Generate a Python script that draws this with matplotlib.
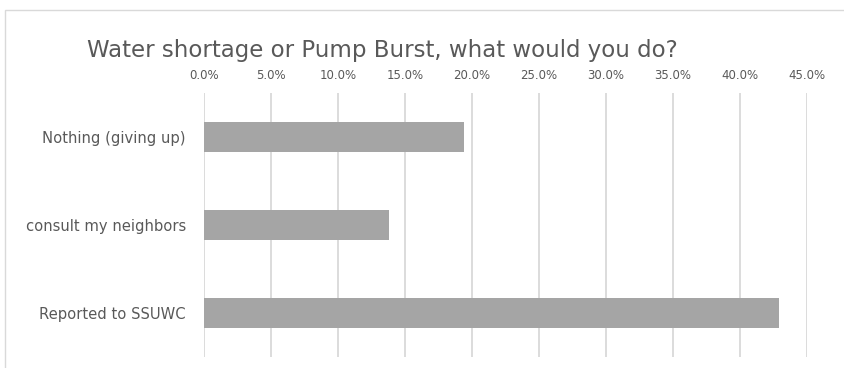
import matplotlib
matplotlib.use("Agg")
import matplotlib.pyplot as plt
from matplotlib.patches import Rectangle
from matplotlib.ticker import PercentFormatter, MultipleLocator

plt.rcParams['font.family'] = ['DejaVu Sans']

title = "Water shortage or Pump Burst, what would you do?"
categories = ["Reported to SSUWC", "consult my neighbors", "Nothing (giving up)"]
values = [42.9, 13.8, 19.4]

W, H = 845, 368
fig = plt.figure(figsize=(W / 100, H / 100), dpi=100)

# light chart-area frame
fig.patches.append(Rectangle((5 / W, -0.02), 1.1, (H - 10) / H + 0.02,
                             transform=fig.transFigure, fill=False,
                             edgecolor="#d9d9d9", linewidth=1.0))

ax = fig.add_axes([204 / W, 1 - 357 / H, (807 - 204) / W, (357 - 93) / H])
ypos = range(len(categories))
ax.barh(ypos, values, height=0.34, color="#a5a5a5", zorder=3)
ax.set_ylim(-0.5, len(categories) - 0.5)
ax.set_xlim(0, 45)
ax.xaxis.set_major_locator(MultipleLocator(5))
ax.xaxis.set_major_formatter(PercentFormatter(decimals=1))
ax.xaxis.tick_top()
ax.set_yticks(list(ypos))
ax.set_yticklabels(categories)
ax.tick_params(axis="x", length=0, pad=8, labelsize=8.5, labelcolor="#595959")
ax.tick_params(axis="y", length=0, pad=13, labelsize=10.6, labelcolor="#595959")
ax.grid(axis="x", color="#d9d9d9", linewidth=1.3, zorder=0)
for s in ax.spines.values():
    s.set_visible(False)

fig.text(87 / W, 1 - 57 / H, title, fontsize=16.5, color="#595959",
         ha="left", va="baseline")

fig.savefig("out.png", dpi=100)
